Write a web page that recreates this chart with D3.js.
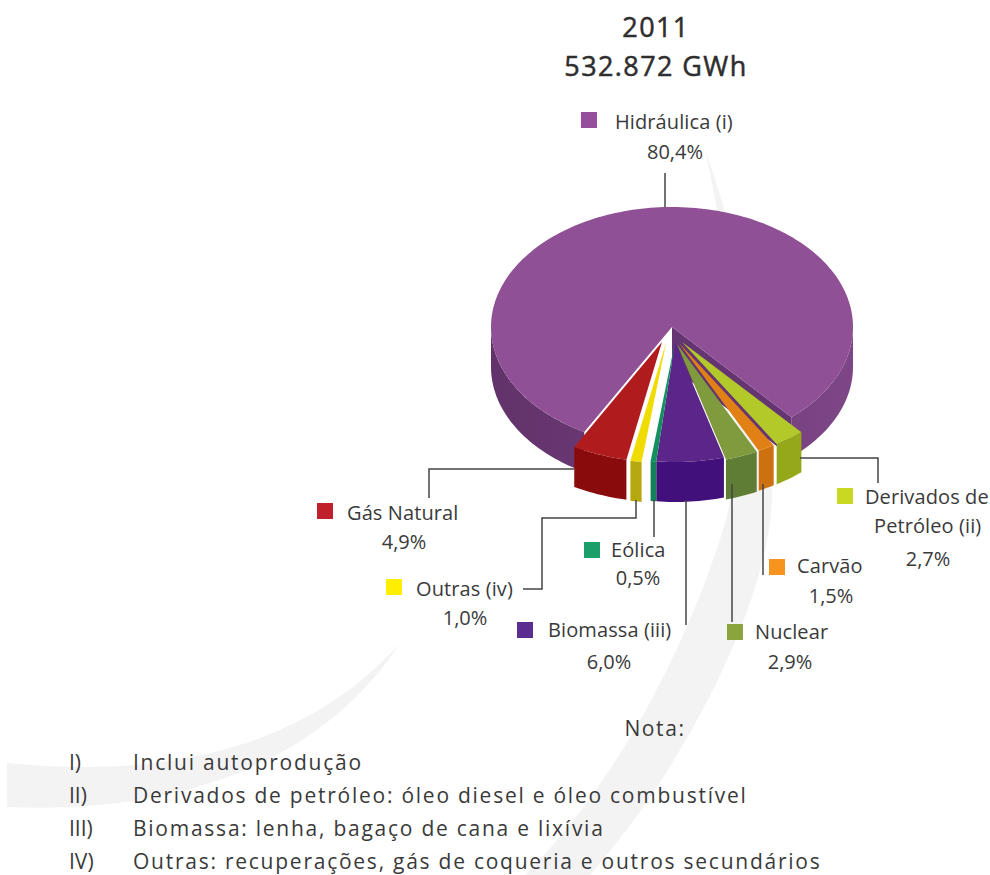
<!DOCTYPE html>
<html lang="pt">
<head>
<meta charset="utf-8">
<script src="https://cdn.jsdelivr.net/npm/d3@7/dist/d3.min.js"></script>
<style>
  html, body { margin: 0; padding: 0; background: #fff; }
  text { font-family: "Open Sans", "DejaVu Sans", sans-serif; fill: #3a3a3a; }
</style>
</head>
<body>
<svg id="chart" width="990" height="875"></svg>
<script>
// Geração de energia elétrica por fonte, 2011
const sources = ["Hidráulica (i)", "Derivados de Petróleo (ii)", "Carvão", "Nuclear", "Biomassa (iii)", "Eólica", "Outras (iv)", "Gás Natural"];
const shares = [80.4, 2.7, 1.5, 2.9, 6.0, 0.5, 1.0, 4.9];
const shareLabels = ["80,4%", "2,7%", "1,5%", "2,9%", "6,0%", "0,5%", "1,0%", "4,9%"];
const titleLines = ["2011", "532.872 GWh"];
const noteMarks = ["I)", "II)", "III)", "IV)"];
const noteTexts = [
  "Inclui autoprodução",
  "Derivados de petróleo: óleo diesel e óleo combustível",
  "Biomassa: lenha, bagaço de cana e lixívia",
  "Outras: recuperações, gás de coqueria e outros secundários"
];

const topColors  = ["#8f5096", "#b3c92a", "#e08015", "#7f9b3d", "#5b2589", "#14905f", "#f0dc00", "#b01c1e"];
const sideColors = ["url(#hydroWall)", "#94a81a", "#cc7010", "#5f7d35", "#42107a", "#128058", "#b8a810", "#8a0b0b"];
const keyColors  = ["#964f9c", "#c9d821", "#f7941d", "#8aa53c", "#5c2d91", "#1a9e6a", "#ffee00", "#c0202a"];

const svg = d3.select("#chart");

const wallGradient = svg.append("defs").append("linearGradient")
  .attr("id", "hydroWall").attr("gradientUnits", "userSpaceOnUse")
  .attr("x1", 491).attr("x2", 853).attr("y1", 0).attr("y2", 0);
wallGradient.append("stop").attr("offset", 0).attr("stop-color", "#62326b");
wallGradient.append("stop").attr("offset", 1).attr("stop-color", "#7d4686");

// Faixas decorativas de fundo
const swoosh = svg.append("g").attr("fill", "#f3f3f3");
swoosh.append("path").attr("d", "M705,150 C745,260 775,420 772,500 C768,600 690,760 590,875 L525,875 C620,780 690,640 726,520 C745,440 735,280 705,150 Z");
swoosh.append("path").attr("d", "M400,643 C340,710 230,785 7,763 L7,807 C200,815 330,750 400,643 Z");

// Geometria da pizza em perspectiva
const cx = 672, cy = 327, rx = 181, ry = 120, depth = 40;
const startAngle = -29 * Math.PI / 180;
// Deslocamento de cada fatia destacada em relação ao centro
const sliceOffsets = [[0, 0], [10, 15], [7, 16], [5, 17], [3, 15], [3, 15], [-6, 16], [-10, 15]];

// Os ângulos correm a partir da frente, da esquerda para a direita
const pie = d3.pie().sort(null).value(d => d)
  .startAngle(0).endAngle(2 * Math.PI);
const order = [7, 6, 5, 4, 3, 2, 1, 0];
const arcs = pie(order.map(i => shares[i])).map((a, k) => ({
  index: order[k],
  a0: startAngle + a.startAngle,
  a1: startAngle + a.endAngle
}));

const project = (angle, ox, oy, dz = 0) => [
  cx + ox + rx * Math.sin(angle),
  cy + oy + ry * Math.cos(angle) + dz
];

function outline(a0, a1, ox, oy, dz) {
  const n = Math.max(2, Math.ceil((a1 - a0) * 40));
  return d3.range(n + 1).map(i => project(a0 + (a1 - a0) * i / n, ox, oy, dz));
}

const line = d3.line();
const slices = svg.append("g");

function drawSlice(s) {
  const [ox, oy] = sliceOffsets[s.index];
  const g = slices.append("g");

  // parede curva: só a parte voltada para a frente
  const bands = s.index === 0
    ? [[s.a0, Math.PI / 2], [3 * Math.PI / 2, s.a1]]
    : [[s.a0, s.a1]];
  bands.forEach(([b0, b1]) => {
    const up = outline(b0, b1, ox, oy, 0);
    const down = outline(b0, b1, ox, oy, depth).reverse();
    g.append("path").attr("d", line(up.concat(down)) + "Z").attr("fill", sideColors[s.index]);
  });

  // corte escuro visível na borda direita da fatia maior
  if (s.index === 0) {
    const edge = project(s.a0, 0, 0);
    g.append("path")
      .attr("d", line([[cx, cy], edge, [edge[0], edge[1] + depth], [cx, cy + depth]]) + "Z")
      .attr("fill", "#643570");
  }

  // face superior
  const top = [[cx + ox, cy + oy]].concat(outline(s.a0, s.a1, ox, oy, 0));
  g.append("path").attr("d", line(top) + "Z").attr("fill", topColors[s.index]);
}

// A fatia maior fica atrás; as demais são desenhadas da direita para a esquerda
drawSlice(arcs[arcs.length - 1]);
arcs.slice(0, -1).reverse().forEach(drawSlice);

// Linhas de chamada
const leaders = [
  [[665, 173], [665, 207]],
  [[800, 458], [878, 458], [878, 483]],
  [[763, 484], [763, 575]],
  [[732, 484], [732, 622]],
  [[686, 500], [686, 625]],
  [[654, 500], [654, 537]],
  [[636, 500], [636, 518], [542, 518], [542, 589], [523, 589]],
  [[574, 469], [429, 469], [429, 498]]
];
svg.append("g").attr("fill", "none").attr("stroke", "#444").attr("stroke-width", 1.5)
  .selectAll("path").data(leaders).join("path").attr("d", d => line(d));

// Título
svg.append("g").selectAll("text").data(titleLines).join("text")
  .attr("x", 656).attr("y", (d, i) => 37 + i * 39)
  .attr("text-anchor", "middle").attr("font-size", 27)
  .attr("letter-spacing", 1.4).style("fill", "#2e2e2e")
  .attr("stroke", "#2e2e2e").attr("stroke-width", 0.5).text(d => d);

// Legendas: cada uma com marcador, nome e percentual
const legendSpots = [
  { key: [581, 112], nameX: 615, nameY: 129, lines: [sources[0]], pctX: 675, pctY: 159 },
  { key: [837, 488], nameX: 865, nameY: 504, lines: ["Derivados de", "Petróleo (ii)"], pctX: 928, pctY: 566 },
  { key: [769, 559], nameX: 797, nameY: 573, lines: [sources[2]], pctX: 831, pctY: 603 },
  { key: [727, 624], nameX: 755, nameY: 639, lines: [sources[3]], pctX: 790, pctY: 669 },
  { key: [517, 622], nameX: 548, nameY: 637, lines: [sources[4]], pctX: 609, pctY: 669 },
  { key: [584, 542], nameX: 611, nameY: 557, lines: [sources[5]], pctX: 638, pctY: 585 },
  { key: [386, 579], nameX: 416, nameY: 596, lines: [sources[6]], pctX: 465, pctY: 625 },
  { key: [317, 503], nameX: 347, nameY: 520, lines: [sources[7]], pctX: 404, pctY: 549 }
];
const legend = svg.append("g");
legendSpots.forEach((spot, i) => {
  legend.append("rect").attr("x", spot.key[0]).attr("y", spot.key[1])
    .attr("width", 16).attr("height", 16).attr("fill", keyColors[i]);
  spot.lines.forEach((t, j) => {
    legend.append("text").attr("x", spot.nameX + (j ? 9 : 0)).attr("y", spot.nameY + j * 29)
      .attr("font-size", 20).attr("letter-spacing", 0.1).text(t);
  });
  legend.append("text").attr("x", spot.pctX).attr("y", spot.pctY)
    .attr("text-anchor", "middle").attr("font-size", 20).text(shareLabels[i]);
});

// Notas
svg.append("text").attr("x", 655).attr("y", 736)
  .attr("text-anchor", "middle").attr("font-size", 21).attr("letter-spacing", 1.6).text("Nota:");
const notes = svg.append("g");
noteMarks.forEach((m, i) => {
  const y = 770 + i * 33;
  notes.append("text").attr("x", 69).attr("y", y).attr("font-size", 21).text(m);
  notes.append("text").attr("x", 133).attr("y", y).attr("font-size", 21).attr("letter-spacing", 1.75).text(noteTexts[i]);
});
</script>
</body>
</html>
